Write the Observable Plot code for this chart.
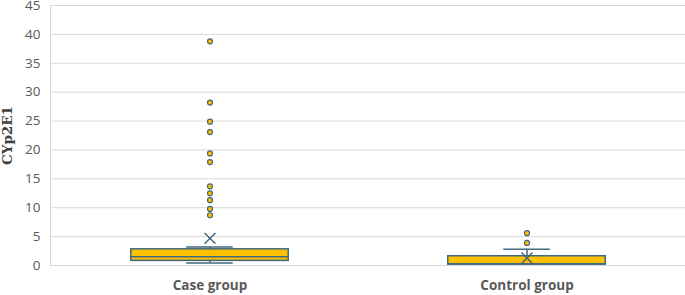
<!DOCTYPE html>
<html>
<head>
<meta charset="utf-8">
<script src="https://cdn.jsdelivr.net/npm/d3@7"></script>
<script src="https://cdn.jsdelivr.net/npm/@observablehq/plot@0.6"></script>
<style>
  body { margin: 0; background: #fff; }
  #chart { width: 685px; height: 295px; }
</style>
</head>
<body>
<div id="chart"></div>
<script>
const categories = ["Case group", "Control group"];
const q1 = [0.8, 0.15];
const median = [1.5, 0.3];
const q3 = [2.8, 1.6];
const whiskerLow = [0.45, 0.15];
const whiskerHigh = [3.2, 2.8];
const means = [4.7, 1.3];
const caseOutliers = [38.8, 28.2, 24.9, 23.1, 19.4, 17.9, 13.7, 12.5, 11.3, 9.8, 8.7];
const controlOutliers = [5.6, 3.9];
const yTicks = [0, 5, 10, 15, 20, 25, 30, 35, 40, 45];

const boxes = categories.map((c, i) => ({
  cat: c, q1: q1[i], med: median[i], q3: q3[i],
  lo: whiskerLow[i], hi: whiskerHigh[i], mean: means[i]
}));
const outliers = [
  ...caseOutliers.map(v => ({cat: categories[0], v})),
  ...controlOutliers.map(v => ({cat: categories[1], v}))
];

const W = 685, H = 295, ML = 50, MR = 0;
const band = (W - ML - MR) / categories.length;
const boxInset = (band - 158) / 2;
const capInset = (band - 47) / 2;
const strokeC = "#41697f";
const fillC = "#FFC000";

const chart = Plot.plot({
  width: W,
  height: H,
  marginLeft: ML,
  marginRight: MR,
  marginTop: 5,
  marginBottom: 30,
  style: {fontFamily: "'Open Sans', sans-serif", background: "#fff", overflow: "visible"},
  x: {domain: categories, padding: 0, label: null},
  y: {domain: [0, 45], label: null},
  marks: [
    Plot.gridY(yTicks, {stroke: "#d9d9d9", strokeOpacity: 1, strokeWidth: 1}),
    Plot.frame({anchor: "left", stroke: "#d9d9d9"}),
    Plot.axisY(yTicks, {tickSize: 0, tickPadding: 10, fontSize: 13.5, fill: "#595959", label: null}),
    Plot.axisX({tickSize: 0, tickPadding: 15, fontSize: 13.5, fontWeight: "bold", fill: "#595959", label: null}),
    Plot.text(["CYp2E1"], {
      frameAnchor: "left", textAnchor: "middle", dx: -ML + 7, dy: 0, rotate: -90,
      fontFamily: "DejaVu Serif", fontWeight: "bold", fontSize: 13.5, fill: "#404040"
    }),
    Plot.ruleX(boxes, {x: "cat", y1: "q3", y2: "hi", stroke: strokeC, strokeWidth: 1.5}),
    Plot.ruleX(boxes, {x: "cat", y1: "lo", y2: "q1", stroke: strokeC, strokeWidth: 1.5}),
    Plot.tickY(boxes, {x: "cat", y: "hi", stroke: strokeC, strokeWidth: 1.5, insetLeft: capInset, insetRight: capInset}),
    Plot.tickY(boxes.filter(d => d.lo < d.q1), {x: "cat", y: "lo", stroke: strokeC, strokeWidth: 1.5, insetLeft: capInset, insetRight: capInset}),
    Plot.barY(boxes, {x: "cat", y1: "q1", y2: "q3", fill: fillC, stroke: strokeC, strokeWidth: 1.5, insetLeft: boxInset, insetRight: boxInset}),
    Plot.tickY(boxes, {x: "cat", y: "med", stroke: strokeC, strokeWidth: 1.5, insetLeft: boxInset, insetRight: boxInset}),
    Plot.dot(boxes, {x: "cat", y: "mean", symbol: "times", r: 5, stroke: strokeC, strokeWidth: 1.5}),
    Plot.dot(outliers, {x: "cat", y: "v", r: 2.5, fill: fillC, stroke: strokeC, strokeWidth: 1.2})
  ]
});
document.getElementById("chart").appendChild(chart);
</script>
</body>
</html>
